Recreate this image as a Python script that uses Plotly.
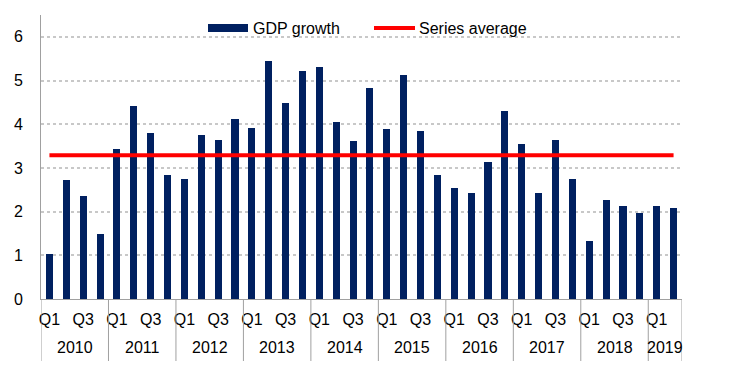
import plotly.graph_objects as go

years = ["2010", "2011", "2012", "2013", "2014", "2015", "2016", "2017", "2018", "2019"]
quarter_labels = ["Q1", "Q2", "Q3", "Q4"]
shown_quarters = ["Q1", "Q3"]
gdp_growth = [1.04, 2.73, 2.36, 1.49,
              3.44, 4.42, 3.80, 2.84,
              2.75, 3.76, 3.64, 4.12,
              3.92, 5.45, 4.49, 5.22,
              5.31, 4.06, 3.62, 4.83,
              3.90, 5.13, 3.85, 2.84,
              2.55, 2.43, 3.14, 4.31,
              3.55, 2.43, 3.64, 2.75,
              1.33, 2.27, 2.13, 1.97,
              2.13, 2.09]
series_average = 3.29
y_ticks = [0, 1, 2, 3, 4, 5, 6]

n = len(gdp_growth)
x_idx = list(range(n))
x_q = [quarter_labels[i % 4] for i in range(n)]
tick_idx = [i for i in x_idx if x_q[i] in shown_quarters]
tick_txt = [x_q[i] for i in tick_idx]

fig = go.Figure()
fig.add_trace(go.Bar(
    x=x_idx, y=gdp_growth, name="GDP growth",
    marker=dict(color="#002060", line=dict(width=0)), width=0.42,
    showlegend=False,
))
fig.add_trace(go.Scatter(
    x=[x_idx[0], x_idx[-1]],
    y=[series_average, series_average], mode="lines", name="Series average",
    line=dict(color="#ff0000", width=4), showlegend=False,
))

# plot area in page pixels: x 41..682, y 15..299 (page body has 8px offset)
L, T, W, H = 33, 7, 641, 284

grey = "#a0a0a0"
# year labels and dividers
for k, yr in enumerate(years):
    members = [i for i in x_idx if i // 4 == k]
    if not members:
        continue
    start, end = members[0] - 0.5, members[-1] + 0.5
    fig.add_annotation(xref="x", yref="paper", x=(start + end) / 2, y=(299 - 348) / H,
                       text=yr, showarrow=False, xanchor="center", yanchor="middle",
                       font=dict(size=16))
    fig.add_shape(type="line", xref="x", yref="paper", x0=start, x1=start,
                  y0=0, y1=(299 - 361) / H, line=dict(color=grey, width=1))
fig.add_shape(type="line", xref="x", yref="paper", x0=n - 0.5, x1=n - 0.5,
              y0=0, y1=(299 - 361) / H, line=dict(color=grey, width=1))

legend_font = dict(family="Liberation Sans, Arial, sans-serif", size=16, color="#000")
fig.add_shape(type="rect", xref="paper", yref="paper",
              x0=(208 - 41) / W, x1=(248 - 41) / W,
              y0=(299 - 32) / H, y1=(299 - 24) / H,
              fillcolor="#002060", line=dict(width=0))
fig.add_annotation(xref="paper", yref="paper", x=(251 - 41) / W, y=(299 - 28) / H,
                   text="GDP growth", showarrow=False, xanchor="left", yanchor="middle",
                   font=legend_font)
fig.add_shape(type="line", xref="paper", yref="paper",
              x0=(374 - 41) / W, x1=(415 - 41) / W,
              y0=(299 - 28) / H, y1=(299 - 28) / H,
              line=dict(color="#ff0000", width=4))
fig.add_annotation(xref="paper", yref="paper", x=(417 - 41) / W, y=(299 - 28) / H,
                   text="Series average", showarrow=False, xanchor="left", yanchor="middle",
                   font=legend_font)

fig.update_layout(
    width=732, height=372,
    margin=dict(l=L, r=732 - L - W, t=T, b=372 - T - H),
    plot_bgcolor="white", paper_bgcolor="white",
    font=dict(family="Liberation Sans, Arial, sans-serif", size=16, color="#000"),
    bargap=0,
)
fig.update_xaxes(
    range=[-0.5, n - 0.5], tickvals=tick_idx, ticktext=tick_txt,
    showline=True, linecolor=grey, linewidth=1, showgrid=False, zeroline=False,
    tickfont=dict(size=16), tickangle=0, automargin=False, ticklabelstandoff=6,
)
fig.update_yaxes(
    range=[0, 6.5], tickvals=y_ticks, showline=True, linecolor=grey, linewidth=1,
    showgrid=True, gridcolor="#c8c8c8", griddash="dot", gridwidth=1.5,
    zeroline=False, ticklabelstandoff=14, tickfont=dict(size=16), automargin=False,
)

fig.write_html("out.html")
